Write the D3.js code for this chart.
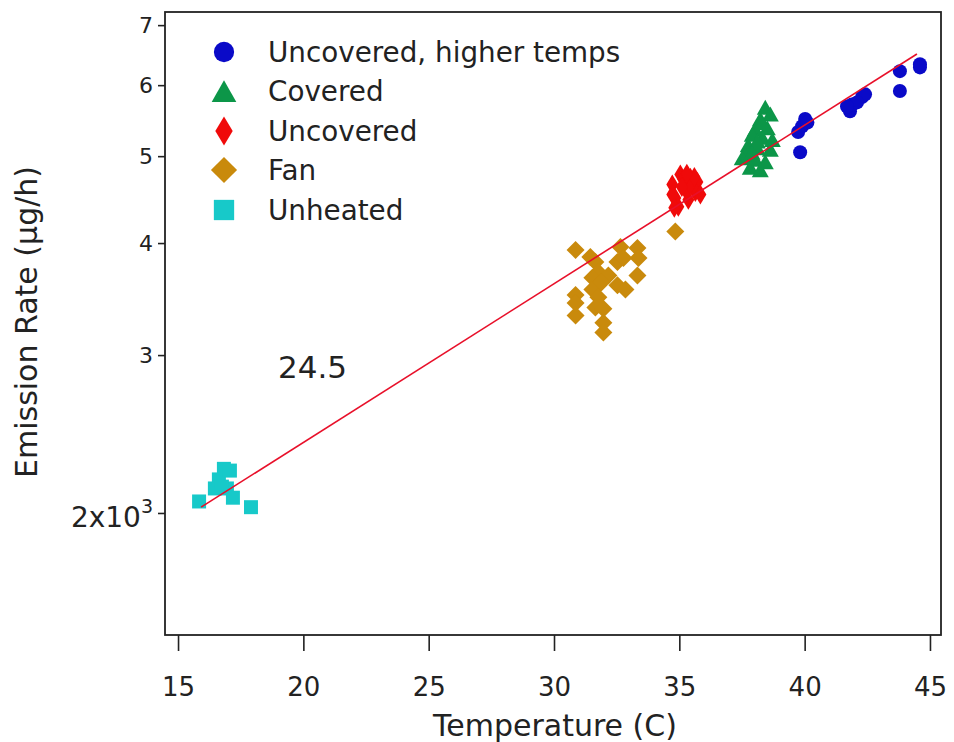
<!DOCTYPE html>
<html>
<head>
<meta charset="utf-8">
<script src="https://cdn.jsdelivr.net/npm/d3@7"></script>
<style>
  body { margin: 0; background: #fff; }
  text { font-family: "DejaVu Sans", sans-serif; fill: #222; }
</style>
</head>
<body>
<div id="chart_div"></div>
<script>
// data: [temperature C, emission rate]
const unheated = [
  [15.84, 2060], [16.47, 2130], [16.63, 2180], [16.83, 2240], [17.07, 2230],
  [16.95, 2130], [17.19, 2080], [17.91, 2030], [16.75, 2140]
]
const fan = [
  [30.86, 3930], [31.45, 3860], [31.65, 3810], [32.65, 3960], [33.33, 3950],
  [33.37, 3850], [32.53, 3810], [32.77, 3850], [33.33, 3680], [32.53, 3590],
  [32.85, 3550], [31.77, 3710], [31.53, 3660], [31.77, 3590], [31.53, 3550],
  [30.86, 3500], [30.86, 3430], [31.77, 3480], [31.65, 3390], [31.97, 3380],
  [30.86, 3320], [31.97, 3260], [31.97, 3180], [32.17, 3680], [31.90, 3620],
  [34.84, 4120]
]
const uncovered = [
  [35.04, 4770], [35.44, 4730], [35.72, 4680], [34.72, 4650], [35.24, 4590],
  [35.64, 4560], [34.84, 4490], [35.36, 4470], [35.84, 4530], [34.96, 4390],
  [35.44, 4650], [35.16, 4710], [34.72, 4530], [35.10, 4620], [34.80, 4380],
  [35.60, 4740], [35.30, 4780]
]
const covered = [
  [38.43, 5670], [38.63, 5570], [38.23, 5500], [38.51, 5380], [38.03, 5360],
  [38.31, 5250], [38.71, 5220], [37.75, 5150], [38.11, 5110], [38.63, 5090],
  [37.63, 5020], [38.03, 4960], [38.43, 4930], [37.83, 4860], [38.23, 4830],
  [37.51, 4980], [37.91, 5290], [38.31, 5450], [38.11, 5200], [37.90, 5050]
]
const higherTemps = [
  [39.82, 5050], [40.02, 5500], [39.90, 5400], [39.74, 5320], [40.11, 5450],
  [41.81, 5610], [41.89, 5710], [42.29, 5820], [42.41, 5860], [42.09, 5740],
  [43.80, 6220], [43.80, 5910], [44.60, 6330], [44.60, 6280], [41.69, 5680]
]
// fitted line end points
const fitLine = [[15.92, 2030], [44.48, 6500]]
const fitLabel = "24.5"

const seriesNames = ["Uncovered, higher temps", "Covered", "Uncovered", "Fan", "Unheated"]
const xTicks = [15, 20, 25, 30, 35, 40, 45]
const yTicks = [2000, 3000, 4000, 5000, 6000, 7000]

const width = 954
const height = 742
const margin = { top: 12, right: 13, bottom: 107, left: 165 }

const svg = d3.select('#chart_div').append('svg')
  .attr('width', width)
  .attr('height', height)

const x = d3.scaleLinear()
  .domain([14.48, 45.44])
  .range([margin.left, width - margin.right])
const y = d3.scaleLog()
  .domain([1462, 7240])
  .range([height - margin.bottom, margin.top])

// marker shapes, s = scale factor (legend markers are bigger)
function circle(s) {
  const r = 7 * s
  return `M${-r},0A${r},${r} 0 1,0 ${r},0A${r},${r} 0 1,0 ${-r},0Z`
}
function triangle(s) {
  const w = 8.5 * s, h = 7.5 * s
  return `M0,${-h}L${w},${h}L${-w},${h}Z`
}
function thinDiamond(s) {
  const w = 6 * s, h = 10 * s
  return `M0,${-h}L${w},0L0,${h}L${-w},0Z`
}
function diamond(s) {
  const w = 9 * s
  return `M0,${-w}L${w},0L0,${w}L${-w},0Z`
}
function square(s) {
  const w = 7 * s
  return `M${-w},${-w}H${w}V${w}H${-w}Z`
}

const series = [
  { name: seriesNames[4], data: unheated, color: '#17c9c9', shape: square },
  { name: seriesNames[3], data: fan, color: '#c98a0c', shape: diamond },
  { name: seriesNames[2], data: uncovered, color: '#f00a0a', shape: thinDiamond },
  { name: seriesNames[1], data: covered, color: '#0c9648', shape: triangle },
  { name: seriesNames[0], data: higherTemps, color: '#0a0ac8', shape: circle }
]

// points
const pointsLayer = svg.append('g').attr('class', 'layer--points')
series.forEach(sr => {
  pointsLayer.append('g')
    .selectAll('path')
    .data(sr.data)
    .enter()
    .append('path')
    .attr('transform', d => `translate(${x(d[0])},${y(d[1])})`)
    .attr('d', sr.shape(1))
    .attr('fill', sr.color)
})

// fit line on top of points
svg.append('path')
  .datum(fitLine)
  .attr('d', d3.line().x(d => x(d[0])).y(d => y(d[1])))
  .attr('fill', 'none')
  .attr('stroke', '#e8102a')
  .attr('stroke-width', 1.6)

svg.append('text')
  .attr('x', 278)
  .attr('y', 378)
  .style('font-size', '31px')
  .text(fitLabel)

// frame
svg.append('rect')
  .attr('x', margin.left)
  .attr('y', margin.top)
  .attr('width', width - margin.left - margin.right)
  .attr('height', height - margin.top - margin.bottom)
  .attr('fill', 'none')
  .attr('stroke', '#222')
  .attr('stroke-width', 1.8)

// x axis
const xAxis = svg.append('g')
  .attr('transform', `translate(0,${height - margin.bottom})`)
  .call(d3.axisBottom(x).tickValues(xTicks).tickSize(16).tickPadding(27).tickFormat(d3.format('d')))
xAxis.select('.domain').remove()
xAxis.selectAll('line').attr('stroke', '#222').attr('stroke-width', 1.6)
xAxis.selectAll('text').style('font-size', '26px').attr('fill', '#222')

// y axis
const yAxis = svg.append('g')
  .attr('transform', `translate(${margin.left},0)`)
  .call(d3.axisLeft(y).tickValues(yTicks).tickSize(7).tickPadding(5).tickFormat(d => d / 1000))
yAxis.select('.domain').remove()
yAxis.selectAll('line').attr('stroke', '#222').attr('stroke-width', 1.6)
yAxis.selectAll('text').style('font-size', '22px').attr('fill', '#222')
// 2x10^3 label
yAxis.selectAll('.tick').filter(d => d === 2000).select('text')
  .text(null)
  .style('font-size', '28px')
  .attr('dy', '0.5em')
  .call(t => {
    t.append('tspan').text('2x10')
    t.append('tspan').text('3').style('font-size', '19px').attr('dy', '-0.75em')
  })

// axis titles
svg.append('text')
  .attr('x', 555)
  .attr('y', 736)
  .attr('text-anchor', 'middle')
  .style('font-size', '30px')
  .text('Temperature (C)')

svg.append('text')
  .attr('transform', 'translate(37,322) rotate(-90)')
  .attr('text-anchor', 'middle')
  .style('font-size', '30px')
  .text('Emission Rate (µg/h)')

// legend
const legendRows = [52, 91, 131, 170, 210]
const legend = svg.append('g').attr('class', 'legend')
series.slice().reverse().forEach((sr, i) => {
  legend.append('path')
    .attr('transform', `translate(224,${legendRows[i]})`)
    .attr('d', sr.shape(1.45))
    .attr('fill', sr.color)
  legend.append('text')
    .attr('x', 268)
    .attr('y', legendRows[i])
    .attr('dy', '0.36em')
    .style('font-size', '27.8px')
    .text(sr.name)
})
</script>
</body>
</html>
